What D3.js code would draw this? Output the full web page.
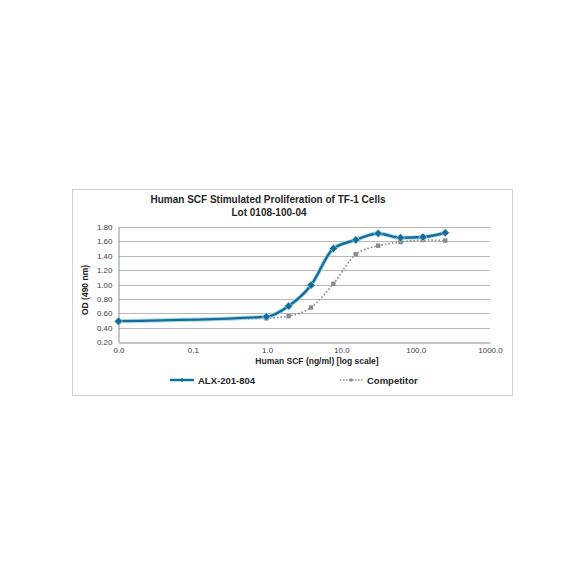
<!DOCTYPE html>
<html>
<head>
<meta charset="utf-8">
<style>
  body { margin: 0; background: #fff; }
  text { font-family: "Liberation Sans", Arial, sans-serif; }
</style>
</head>
<body>
<svg id="svg"></svg>
<script src="https://d3js.org/d3.v7.min.js"></script>
<script>
  var width = 584, height = 584;

  // data
  var conc = [0.01, 0.98, 1.95, 3.9, 7.8, 15.6, 31.25, 62.5, 125, 250];
  var alx = [0.49, 0.55, 0.70, 0.99, 1.50, 1.62, 1.71, 1.65, 1.66, 1.72];
  var competitor = [0.48, 0.53, 0.56, 0.68, 1.01, 1.42, 1.54, 1.59, 1.62, 1.61];
  var xTicks = [0.01, 0.1, 1, 10, 100, 1000];
  var xTickLabels = ["0.0", "0.1", "1.0", "10.0", "100.0", "1000.0"];
  var yTicks = [0.2, 0.4, 0.6, 0.8, 1.0, 1.2, 1.4, 1.6, 1.8];

  var svg = d3.select("#svg").attr("width", width).attr("height", height);

  // chart frame
  svg.append("rect")
    .attr("x", 72.5).attr("y", 189.5)
    .attr("width", 440).attr("height", 206)
    .attr("fill", "#fff")
    .attr("stroke", "#d0d0d0");

  var x = d3.scaleLog().domain([0.01, 1000]).range([118.5, 490]);
  var y = d3.scaleLinear().domain([0.2, 1.8]).range([342, 227]);

  // gridlines
  svg.append("g")
    .selectAll("line")
    .data(yTicks.slice(1))
    .enter()
    .append("line")
    .attr("x1", x(0.01)).attr("x2", x(1000))
    .attr("y1", function (d) { return Math.round(y(d)) + 0.5; })
    .attr("y2", function (d) { return Math.round(y(d)) + 0.5; })
    .attr("stroke", "#a6a6a6")
    .attr("stroke-width", 0.8);

  // y axis
  var yAxis = svg.append("g")
    .attr("transform", "translate(" + x(0.01) + ",0)")
    .call(d3.axisLeft(y).tickValues(yTicks).tickSize(0).tickPadding(6)
      .tickFormat(d3.format(".2f")));
  yAxis.select(".domain").attr("stroke", "#8c8c8c");
  yAxis.selectAll("text").attr("font-size", 8).attr("fill", "#404040");

  // x axis
  var xAxis = svg.append("g")
    .attr("transform", "translate(0," + (Math.round(y(0.2)) + 0.5) + ")")
    .call(d3.axisBottom(x).tickValues(xTicks).tickSize(0).tickPadding(5)
      .tickFormat(function (d, i) { return xTickLabels[i]; }));
  xAxis.select(".domain").attr("stroke", "#8c8c8c");
  xAxis.selectAll("text").attr("font-size", 8).attr("fill", "#404040");

  // titles
  svg.append("text")
    .attr("x", 268).attr("y", 203)
    .attr("text-anchor", "middle")
    .attr("font-size", 10).attr("font-weight", "bold").attr("fill", "#262626")
    .text("Human SCF Stimulated Proliferation of TF-1 Cells");
  svg.append("text")
    .attr("x", 269).attr("y", 216)
    .attr("text-anchor", "middle")
    .attr("font-size", 10).attr("font-weight", "bold").attr("fill", "#262626")
    .text("Lot 0108-100-04");

  svg.append("text")
    .attr("transform", "translate(88,290) rotate(-90)")
    .attr("text-anchor", "middle")
    .attr("font-size", 8.5).attr("font-weight", "bold").attr("fill", "#262626")
    .text("OD (490 nm)");

  svg.append("text")
    .attr("x", 317).attr("y", 364)
    .attr("text-anchor", "middle")
    .attr("font-size", 8.5).attr("font-weight", "bold").attr("fill", "#262626")
    .text("Human SCF (ng/ml) [log scale]");

  var line = d3.line()
    .x(function (d, i) { return x(conc[i]); })
    .y(function (d) { return y(d); })
    .curve(d3.curveMonotoneX);

  // competitor (grey dotted)
  svg.append("path")
    .datum(competitor)
    .attr("d", line)
    .attr("fill", "none")
    .attr("stroke", "#8a8a8a")
    .attr("stroke-width", 1.6)
    .attr("stroke-dasharray", "1.6,2");
  svg.append("g")
    .selectAll("rect")
    .data(competitor)
    .enter()
    .append("rect")
    .attr("x", function (d, i) { return x(conc[i]) - 2.2; })
    .attr("y", function (d) { return y(d) - 2.2; })
    .attr("width", 4.4).attr("height", 4.4)
    .attr("fill", "#8a8a8a");

  // ALX-201-804 (blue with light halo)
  svg.append("path")
    .datum(alx)
    .attr("d", line)
    .attr("fill", "none")
    .attr("stroke", "#a6e0ec")
    .attr("stroke-width", 4.2);
  svg.append("path")
    .datum(alx)
    .attr("d", line)
    .attr("fill", "none")
    .attr("stroke", "#1c6a98")
    .attr("stroke-width", 2.4);
  svg.append("g")
    .selectAll("rect")
    .data(alx)
    .enter()
    .append("rect")
    .attr("x", -2.9).attr("y", -2.9)
    .attr("width", 5.8).attr("height", 5.8)
    .attr("transform", function (d, i) { return "translate(" + x(conc[i]) + "," + y(d) + ") rotate(45)"; })
    .attr("fill", "#1c6a98")
    .attr("stroke", "#a6e0ec")
    .attr("stroke-width", 0.7);

  // legend
  svg.append("line")
    .attr("x1", 170).attr("x2", 194).attr("y1", 380).attr("y2", 380)
    .attr("stroke", "#a6e0ec").attr("stroke-width", 3.6);
  svg.append("line")
    .attr("x1", 170).attr("x2", 194).attr("y1", 380).attr("y2", 380)
    .attr("stroke", "#1c6a98").attr("stroke-width", 2);
  svg.append("rect")
    .attr("x", -1.6).attr("y", -1.6).attr("width", 3.2).attr("height", 3.2)
    .attr("transform", "translate(182,380) rotate(45)")
    .attr("fill", "#1c6a98");
  svg.append("text")
    .attr("x", 198).attr("y", 383.5)
    .attr("font-size", 9.5).attr("font-weight", "bold").attr("fill", "#262626")
    .text("ALX-201-804");

  svg.append("line")
    .attr("x1", 340).attr("x2", 363).attr("y1", 380).attr("y2", 380)
    .attr("stroke", "#8a8a8a").attr("stroke-width", 1.4)
    .attr("stroke-dasharray", "1.4,1.6");
  svg.append("rect")
    .attr("x", 349.5).attr("y", 378.5).attr("width", 3).attr("height", 3)
    .attr("fill", "#8a8a8a");
  svg.append("text")
    .attr("x", 367).attr("y", 383.5)
    .attr("font-size", 9.5).attr("font-weight", "bold").attr("fill", "#262626")
    .text("Competitor");
</script>
</body>
</html>
